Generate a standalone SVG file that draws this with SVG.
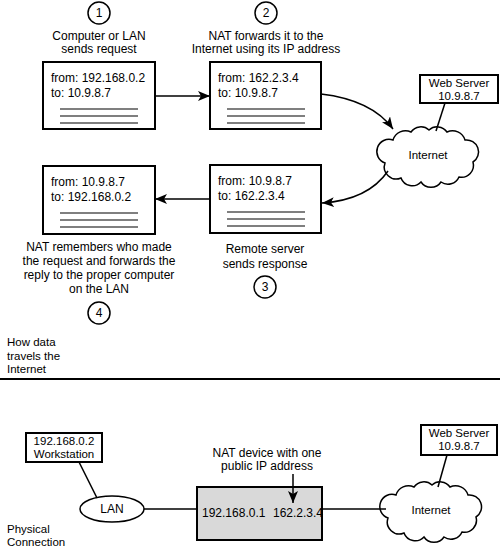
<svg xmlns="http://www.w3.org/2000/svg" xmlns:xlink="http://www.w3.org/1999/xlink" width="500" height="550" viewBox="0 0 500 550">
<style>
text{font-family:"Liberation Sans",Arial,Helvetica,sans-serif;font-size:12px;fill:#000}
.c{text-anchor:middle}
.s{font-size:11.5px}
.box{fill:#fff;stroke:#000;stroke-width:2}
.rule{stroke:#000;stroke-width:1.2}
.ln{fill:none;stroke:#000;stroke-width:1.5}
.num{fill:#fff;stroke:#000;stroke-width:1.5}
.cloud{fill:#fff;stroke:#000;stroke-width:1.5}
</style>
<defs>
<marker id="ah" viewBox="0 0 12 10" refX="12" refY="5" markerWidth="12" markerHeight="10" markerUnits="userSpaceOnUse" orient="auto">
<path d="M0,0 L12,5 L0,10 L3,5 z" fill="#000"/>
</marker>
<path id="cloudShape" d="M-43,8 A12,12 0 0 1 -35,-15 A13,13 0 0 1 -17,-23 A12,12 0 0 1 1,-25 A12,12 0 0 1 19,-23 A13,13 0 0 1 37,-15 A12,12 0 0 1 45,7 A12,12 0 0 1 31,22 A12,12 0 0 1 13,27 A12,12 0 0 1 -7,27 A12,12 0 0 1 -27,23 A12,12 0 0 1 -43,8 z"/>
</defs>

<g id="step1">
<circle class="num" cx="99" cy="13" r="11"/>
<text class="c" x="99" y="17">1</text>
<text class="c" x="99" y="40">Computer or LAN</text>
<text class="c" x="99" y="53">sends request</text>
</g>
<g id="packet1">
<rect class="box" x="43" y="62" width="112" height="67"/>
<text x="51" y="82">from: 192.168.0.2</text>
<text x="51" y="97">to: 10.9.8.7</text>
<line class="rule" x1="60" y1="109" x2="138" y2="109"/>
<line class="rule" x1="60" y1="116" x2="138" y2="116"/>
<line class="rule" x1="60" y1="123" x2="138" y2="123"/>
</g>

<g id="step2">
<circle class="num" cx="266" cy="13" r="11"/>
<text class="c" x="266" y="17">2</text>
<text class="c" x="266" y="40">NAT forwards it to the</text>
<text class="c" x="266" y="53">Internet using its IP address</text>
</g>
<g id="packet2">
<rect class="box" x="210" y="62" width="111" height="67"/>
<text x="218" y="82">from: 162.2.3.4</text>
<text x="218" y="97">to: 10.9.8.7</text>
<line class="rule" x1="227" y1="109" x2="305" y2="109"/>
<line class="rule" x1="227" y1="116" x2="305" y2="116"/>
<line class="rule" x1="227" y1="123" x2="305" y2="123"/>
</g>

<g id="webserver1">
<rect class="box" x="420" y="75" width="78" height="28"/>
<text class="c s" x="459" y="87">Web Server</text>
<text class="c s" x="459" y="99.5">10.9.8.7</text>
</g>

<g id="internet1">
<use xlink:href="#cloudShape" href="#cloudShape" class="cloud" transform="translate(428,155)"/>
<text class="c s" x="428" y="159">Internet</text>
</g>

<g id="packet3">
<rect class="box" x="210" y="165" width="111" height="68"/>
<text x="218" y="185">from: 10.9.8.7</text>
<text x="218" y="200">to: 162.2.3.4</text>
<line class="rule" x1="227" y1="212" x2="305" y2="212"/>
<line class="rule" x1="227" y1="219" x2="305" y2="219"/>
<line class="rule" x1="227" y1="226" x2="305" y2="226"/>
</g>
<g id="step3">
<text class="c" x="265" y="253">Remote server</text>
<text class="c" x="265" y="268">sends response</text>
<circle class="num" cx="265" cy="287" r="11"/>
<text class="c" x="265" y="291">3</text>
</g>

<g id="packet4">
<rect class="box" x="43" y="166" width="112" height="68"/>
<text x="51" y="186">from: 10.9.8.7</text>
<text x="51" y="201">to: 192.168.0.2</text>
<line class="rule" x1="60" y1="213" x2="138" y2="213"/>
<line class="rule" x1="60" y1="220" x2="138" y2="220"/>
<line class="rule" x1="60" y1="227" x2="138" y2="227"/>
</g>
<g id="step4">
<text class="c" x="99" y="251">NAT remembers who made</text>
<text class="c" x="99" y="265">the request and forwards the</text>
<text class="c" x="99" y="279">reply to the proper computer</text>
<text class="c" x="99" y="293">on the LAN</text>
<circle class="num" cx="99" cy="313" r="11"/>
<text class="c" x="99" y="317">4</text>
</g>

<g id="caption1">
<text class="s" x="7" y="346">How data</text>
<text class="s" x="7" y="359.5">travels the</text>
<text class="s" x="7" y="373">Internet</text>
</g>

<line x1="0" y1="379" x2="500" y2="379" stroke="#000" stroke-width="2"/>

<g id="workstation">
<rect class="box" x="26" y="433" width="76" height="29"/>
<text class="c s" x="64" y="445">192.168.0.2</text>
<text class="c s" x="64" y="458">Workstation</text>
</g>
<g id="lan">
<ellipse cx="112" cy="509" rx="32" ry="13" fill="#fff" stroke="#000" stroke-width="1.5"/>
<text class="c" x="112" y="513">LAN</text>
</g>
<g id="natdevice">
<rect x="197" y="487" width="125" height="53" fill="#d9d9d9" stroke="#000" stroke-width="2"/>
<text x="202" y="517">192.168.0.1</text>
<text x="273" y="517">162.2.3.4</text>
</g>
<g id="natlabel">
<text class="c" x="267" y="457">NAT device with one</text>
<text class="c" x="267" y="470">public IP address</text>
</g>
<g id="internet2">
<use xlink:href="#cloudShape" href="#cloudShape" class="cloud" transform="translate(431,510)"/>
<text class="c s" x="431" y="514">Internet</text>
</g>
<g id="webserver2">
<rect class="box" x="421" y="425" width="76" height="30"/>
<text class="c s" x="459" y="437">Web Server</text>
<text class="c s" x="459" y="450">10.9.8.7</text>
</g>
<g id="caption2">
<text class="s" x="7" y="533">Physical</text>
<text class="s" x="7" y="546">Connection</text>
</g>

<g id="connectors">
<line class="ln" x1="155" y1="96" x2="210" y2="96" marker-end="url(#ah)"/>
<path class="ln" d="M321,94 Q372,100 393,129" marker-end="url(#ah)"/>
<line class="ln" x1="445" y1="103" x2="436" y2="131"/>
<path class="ln" d="M388,171 Q368,200 322,203" marker-end="url(#ah)"/>
<line class="ln" x1="210" y1="199" x2="155" y2="199" marker-end="url(#ah)"/>
<line class="ln" x1="79" y1="462" x2="97" y2="498"/>
<line class="ln" x1="144" y1="509" x2="197" y2="509"/>
<line class="ln" x1="293" y1="474" x2="293" y2="503" marker-end="url(#ah)"/>
<line class="ln" x1="322" y1="509" x2="386" y2="509"/>
<line class="ln" x1="447" y1="455" x2="438" y2="487"/>
</g>
</svg>
